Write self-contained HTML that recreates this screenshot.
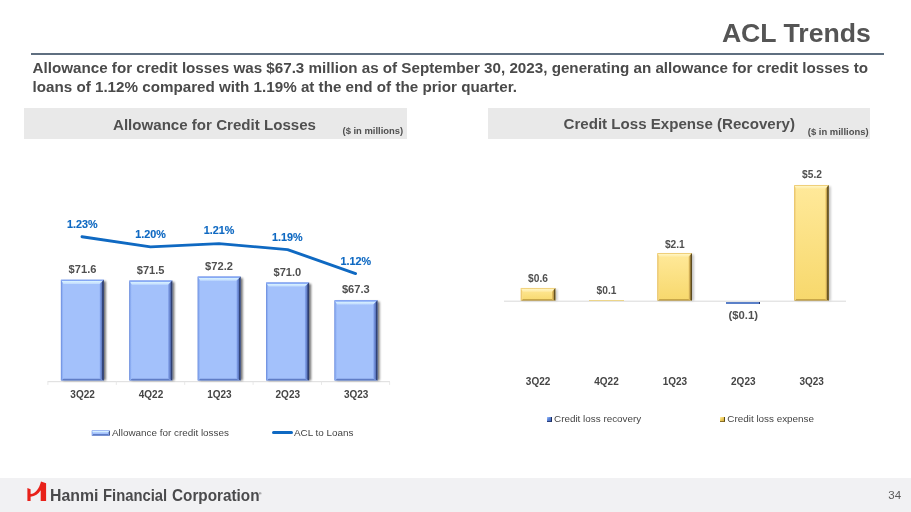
<!DOCTYPE html>
<html lang="en">
<head>
<meta charset="utf-8">
<title>ACL Trends</title>
<style>
*{margin:0;padding:0;box-sizing:border-box}
html,body{width:911px;height:512px;overflow:hidden;background:#fff}
body{position:relative;font-family:"Liberation Sans",Arial,sans-serif;color:#4a4a4a}
.abs{position:absolute;white-space:nowrap}
#title{right:40.1px;top:17.6px;font-size:26.65px;font-weight:bold;color:#555;line-height:30px}
#rule{left:31px;top:52.5px;width:853px;height:2px;background:#5f6f80}
#lead{left:32.5px;top:59.4px;font-size:15.2px;font-weight:bold;line-height:18.7px;color:#4a4a4a;white-space:normal;width:860px}
.hdr{top:108px;height:30.5px;background:#e9e9e9}
.hdr .t{font-size:15.1px;font-weight:bold;color:#505050;top:7.9px;line-height:17px}
.hdr .s{font-size:9.44px;font-weight:bold;color:#505050;top:17.2px;line-height:10px}
.xl{font-size:10px;font-weight:bold;color:#454545;line-height:12px;transform:translateX(-50%)}
.vl{font-size:11.1px;font-weight:bold;color:#505050;line-height:12px;transform:translateX(-50%)}
.v2{font-size:10.2px;font-weight:bold;color:#505050;line-height:12px;transform:translateX(-50%)}
.pl{font-size:10.8px;font-weight:bold;color:#0f69c2;-webkit-text-stroke:.15px #0f69c2;line-height:12px;transform:translateX(-50%)}
.lg{font-size:9.88px;color:#444;line-height:12px}
#foot{left:0;top:477.6px;width:911px;height:35px;background:#f1f1f3}
.br{top:487.1px;font-size:15.9px;line-height:18px;font-weight:bold;color:#4a4a4c;transform-origin:0 50%;display:inline-block}
#pn{left:888.3px;top:488.6px;font-size:11.5px;line-height:13px;color:#5a5a5a}
</style>
</head>
<body>
<div id="title" class="abs">ACL Trends</div>
<div id="rule" class="abs"></div>
<div id="lead" class="abs">Allowance for credit losses was $67.3 million as of September 30, 2023, generating an allowance for credit losses to<br>loans of 1.12% compared with 1.19% at the end of the prior quarter.</div>

<div class="abs hdr" style="left:23.5px;width:383px">
  <span class="abs t" style="left:89.5px;top:7.5px">Allowance for Credit Losses</span>
  <span class="abs s" style="left:319px;top:17.7px">($ in millions)</span>
</div>
<div class="abs hdr" style="left:488px;width:382px">
  <span class="abs t" style="left:75.5px;top:7px">Credit Loss Expense (Recovery)</span>
  <span class="abs s" style="left:319.8px;top:18.5px">($ in millions)</span>
</div>

<div id="foot" class="abs"></div>
<!-- chart 1 -->
<svg class="abs" style="left:0;top:0" width="911" height="512" viewBox="0 0 911 512">
  <path d="M47.5 381.7H390" stroke="#dcdcdc" stroke-width="1" fill="none"/>
  <path d="M47.9 381.7v3.2 M116.3 381.7v3.2 M184.7 381.7v3.2 M253.1 381.7v3.2 M321.5 381.7v3.2 M389.6 381.7v3.2" stroke="#e8e8e8" stroke-width="1" fill="none"/>
  <!--BARS-->
<defs>
<filter id="sh" x="-30%" y="-10%" width="160%" height="120%"><feGaussianBlur stdDeviation="1.1"/></filter>
<linearGradient id="bt" x1="0" y1="0" x2="0" y2="1"><stop offset="0" stop-color="#6f92ec"/><stop offset=".28" stop-color="#8db0f8"/><stop offset=".42" stop-color="#d6f0ff"/><stop offset="1" stop-color="#c0dafe"/></linearGradient>
<linearGradient id="bl" x1="0" y1="0" x2="1" y2="0"><stop offset="0" stop-color="#5f80d4"/><stop offset=".4" stop-color="#86a8f0"/><stop offset="1" stop-color="#a0bffa"/></linearGradient>
<linearGradient id="br" x1="0" y1="0" x2="1" y2="0"><stop offset="0" stop-color="#8aa9f0"/><stop offset=".55" stop-color="#5a76c0"/><stop offset=".66" stop-color="#34467c"/><stop offset="1" stop-color="#2a3866"/></linearGradient>
<linearGradient id="yt" x1="0" y1="0" x2="0" y2="1"><stop offset="0" stop-color="#e2be60"/><stop offset=".2" stop-color="#f6d888"/><stop offset=".38" stop-color="#fff4be"/><stop offset="1" stop-color="#feeaa4"/></linearGradient>
<linearGradient id="ym" x1="0" y1="0" x2="0" y2="1"><stop offset="0" stop-color="#ffe99a"/><stop offset="1" stop-color="#f7d86c"/></linearGradient>
<linearGradient id="yl" x1="0" y1="0" x2="1" y2="0"><stop offset="0" stop-color="#e0b858"/><stop offset=".5" stop-color="#f2d07a"/><stop offset="1" stop-color="#fbe08e"/></linearGradient>
<linearGradient id="yr" x1="0" y1="0" x2="1" y2="0"><stop offset="0" stop-color="#ecc868"/><stop offset=".5" stop-color="#b89848"/><stop offset=".62" stop-color="#6a5624"/><stop offset="1" stop-color="#54441c"/></linearGradient>
</defs>
<rect x="62.9" y="281.2" width="43" height="99.2" fill="#000" opacity="0.55" filter="url(#sh)"/>
<rect x="60.9" y="279.7" width="43" height="100.7" fill="#a3c1fb"/>
<polygon points="60.9,279.7 103.9,279.7 99.7,283.9 63.3,283.9" fill="url(#bt)"/>
<polygon points="60.9,380.4 103.9,380.4 99.7,378.8 63.3,378.8" fill="#5f7dc6"/>
<polygon points="60.9,279.7 63.3,283.9 63.3,378.8 60.9,380.4" fill="url(#bl)"/>
<polygon points="103.9,279.7 99.7,283.9 99.7,378.8 103.9,380.4" fill="url(#br)"/>
<rect x="131.3" y="282" width="43" height="98.4" fill="#000" opacity="0.55" filter="url(#sh)"/>
<rect x="129.3" y="280.5" width="43" height="99.9" fill="#a3c1fb"/>
<polygon points="129.3,280.5 172.3,280.5 168.1,284.7 131.7,284.7" fill="url(#bt)"/>
<polygon points="129.3,380.4 172.3,380.4 168.1,378.8 131.7,378.8" fill="#5f7dc6"/>
<polygon points="129.3,280.5 131.7,284.7 131.7,378.8 129.3,380.4" fill="url(#bl)"/>
<polygon points="172.3,280.5 168.1,284.7 168.1,378.8 172.3,380.4" fill="url(#br)"/>
<rect x="199.7" y="278.1" width="43" height="102.3" fill="#000" opacity="0.55" filter="url(#sh)"/>
<rect x="197.7" y="276.6" width="43" height="103.8" fill="#a3c1fb"/>
<polygon points="197.7,276.6 240.7,276.6 236.5,280.8 200.1,280.8" fill="url(#bt)"/>
<polygon points="197.7,380.4 240.7,380.4 236.5,378.8 200.1,378.8" fill="#5f7dc6"/>
<polygon points="197.7,276.6 200.1,280.8 200.1,378.8 197.7,380.4" fill="url(#bl)"/>
<polygon points="240.7,276.6 236.5,280.8 236.5,378.8 240.7,380.4" fill="url(#br)"/>
<rect x="268.1" y="283.9" width="43" height="96.5" fill="#000" opacity="0.55" filter="url(#sh)"/>
<rect x="266.1" y="282.4" width="43" height="98" fill="#a3c1fb"/>
<polygon points="266.1,282.4 309.1,282.4 304.9,286.6 268.5,286.6" fill="url(#bt)"/>
<polygon points="266.1,380.4 309.1,380.4 304.9,378.8 268.5,378.8" fill="#5f7dc6"/>
<polygon points="266.1,282.4 268.5,286.6 268.5,378.8 266.1,380.4" fill="url(#bl)"/>
<polygon points="309.1,282.4 304.9,286.6 304.9,378.8 309.1,380.4" fill="url(#br)"/>
<rect x="336.5" y="301.7" width="43" height="78.7" fill="#000" opacity="0.55" filter="url(#sh)"/>
<rect x="334.5" y="300.2" width="43" height="80.2" fill="#a3c1fb"/>
<polygon points="334.5,300.2 377.5,300.2 373.3,304.4 336.9,304.4" fill="url(#bt)"/>
<polygon points="334.5,380.4 377.5,380.4 373.3,378.8 336.9,378.8" fill="#5f7dc6"/>
<polygon points="334.5,300.2 336.9,304.4 336.9,378.8 334.5,380.4" fill="url(#bl)"/>
<polygon points="377.5,300.2 373.3,304.4 373.3,378.8 377.5,380.4" fill="url(#br)"/>
<rect x="91.8" y="430.6" width="18" height="5.1" fill="#a3c1fb"/>
<polygon points="91.8,430.6 109.8,430.6 108.2,432.6 92.8,432.6" fill="url(#bt)"/>
<polygon points="91.8,435.7 109.8,435.7 108.2,434.1 92.8,434.1" fill="#5f7dc6"/>
<polygon points="91.8,430.6 92.8,432.6 92.8,434.1 91.8,435.7" fill="url(#bl)"/>
<polygon points="109.8,430.6 108.2,432.6 108.2,434.1 109.8,435.7" fill="url(#br)"/>
<rect x="522.8" y="289.4" width="34.6" height="11.5" fill="#000" opacity="0.22" filter="url(#sh)"/>
<rect x="520.8" y="287.9" width="34.6" height="13" fill="url(#ym)"/>
<polygon points="520.8,287.9 555.4,287.9 552,291.7 522.6,291.7" fill="url(#yt)"/>
<polygon points="520.8,300.9 555.4,300.9 552,299.3 522.6,299.3" fill="#b8963c"/>
<polygon points="520.8,287.9 522.6,291.7 522.6,299.3 520.8,300.9" fill="url(#yl)"/>
<polygon points="555.4,287.9 552,291.7 552,299.3 555.4,300.9" fill="url(#yr)"/>
<rect x="659.4" y="254.5" width="34.6" height="46.4" fill="#000" opacity="0.22" filter="url(#sh)"/>
<rect x="657.4" y="253" width="34.6" height="47.9" fill="url(#ym)"/>
<polygon points="657.4,253 692,253 688.6,256.8 659.2,256.8" fill="url(#yt)"/>
<polygon points="657.4,300.9 692,300.9 688.6,299.3 659.2,299.3" fill="#b8963c"/>
<polygon points="657.4,253 659.2,256.8 659.2,299.3 657.4,300.9" fill="url(#yl)"/>
<polygon points="692,253 688.6,256.8 688.6,299.3 692,300.9" fill="url(#yr)"/>
<rect x="796.2" y="186.5" width="34.6" height="114.4" fill="#000" opacity="0.22" filter="url(#sh)"/>
<rect x="794.2" y="185" width="34.6" height="115.9" fill="url(#ym)"/>
<polygon points="794.2,185 828.8,185 825.4,188.8 796,188.8" fill="url(#yt)"/>
<polygon points="794.2,300.9 828.8,300.9 825.4,299.3 796,299.3" fill="#b8963c"/>
<polygon points="794.2,185 796,188.8 796,299.3 794.2,300.9" fill="url(#yl)"/>
<polygon points="828.8,185 825.4,188.8 825.4,299.3 828.8,300.9" fill="url(#yr)"/>
<!--/BARS-->
  <polyline points="82,236.7 150.5,246.9 219,243.6 287.6,249.6 355.6,273.6" fill="none" stroke="#0f69c2" stroke-width="2.9" stroke-linecap="round" stroke-linejoin="round"/>
  <path d="M504 301.2H846" stroke="#d9d9d9" stroke-width="1" fill="none"/>
  <!-- logo mark -->
  <path d="M27.4 488 L30.6 489.2 L30.6 494 C35.5 493.4 39.2 488.5 41 481.4 L46.1 483.3 L46.1 500.9 L40.7 500.9 L40.7 490.3 C38.5 494.2 35 496.4 30.6 496.7 L30.6 500.9 L27.4 500.9 Z" fill="#e8211a"/>
</svg>
<div class="abs pl" style="left:82.2px;top:218px">1.23%</div>
<div class="abs pl" style="left:150.6px;top:227.9px">1.20%</div>
<div class="abs pl" style="left:219px;top:223.5px">1.21%</div>
<div class="abs pl" style="left:287.4px;top:230.8px">1.19%</div>
<div class="abs pl" style="left:355.8px;top:254.8px">1.12%</div>

<div class="abs vl" style="left:82.5px;top:263px">$71.6</div>
<div class="abs vl" style="left:150.6px;top:263.5px">$71.5</div>
<div class="abs vl" style="left:219px;top:259.9px">$72.2</div>
<div class="abs vl" style="left:287.4px;top:265.8px">$71.0</div>
<div class="abs vl" style="left:355.8px;top:282.7px">$67.3</div>

<div class="abs xl" style="left:82.6px;top:388.7px">3Q22</div>
<div class="abs xl" style="left:151px;top:388.7px">4Q22</div>
<div class="abs xl" style="left:219.4px;top:388.7px">1Q23</div>
<div class="abs xl" style="left:287.8px;top:388.7px">2Q23</div>
<div class="abs xl" style="left:356.2px;top:388.7px">3Q23</div>

<div class="abs lg" style="left:112px;top:427px">Allowance for credit losses</div>
<div class="abs" style="left:272.4px;top:431.4px;width:20.8px;height:2.9px;background:#0f69c2;border-radius:1.5px"></div>
<div class="abs lg" style="left:294px;top:427px">ACL to Loans</div>

<!-- chart 2 -->
<div class="abs" style="left:589px;top:299.9px;width:34.8px;height:.9px;background:#ecd58a"></div>
<div class="abs" style="left:726px;top:301.6px;width:34.3px;height:2.3px;background:linear-gradient(90deg,#5b80c8 0,#5b80c8 96%,#23356a 97%)"></div>

<div class="abs v2" style="left:538px;top:272.5px">$0.6</div>
<div class="abs v2" style="left:606.5px;top:284.5px">$0.1</div>
<div class="abs v2" style="left:674.8px;top:238.5px">$2.1</div>
<div class="abs vl" style="left:743.3px;top:308.8px;font-size:11.3px">($0.1)</div>
<div class="abs v2" style="left:812px;top:169px">$5.2</div>

<div class="abs xl" style="left:538.1px;top:375.8px">3Q22</div>
<div class="abs xl" style="left:606.5px;top:375.8px">4Q22</div>
<div class="abs xl" style="left:674.9px;top:375.8px">1Q23</div>
<div class="abs xl" style="left:743.3px;top:375.8px">2Q23</div>
<div class="abs xl" style="left:811.7px;top:375.8px">3Q23</div>

<div class="abs" style="left:546.5px;top:416.5px;width:5.5px;height:5.3px;background:linear-gradient(135deg,#a8c6ff 0,#5c86da 45%,#4468b8 100%);border-right:1px solid #1e2c58;border-bottom:1px solid #2c3f7a"></div>
<div class="abs lg" style="left:554px;top:413.3px">Credit loss recovery</div>
<div class="abs" style="left:719.8px;top:416.5px;width:5.5px;height:5.3px;background:linear-gradient(135deg,#fff2b0 0,#f0cf60 45%,#d8b040 100%);border-right:1px solid #5a4a18;border-bottom:1px solid #8a7028"></div>
<div class="abs lg" style="left:727.3px;top:413.3px">Credit loss expense</div>

<!-- footer -->
<div class="abs br" style="left:49.8px;transform:scaleX(.996)">Hanmi</div>
<div class="abs br" style="left:102.6px;transform:scaleX(.932)">Financial</div>
<div class="abs br" style="left:171.6px;transform:scaleX(.962)">Corporation</div>
<div class="abs" style="left:259px;top:491.5px;font-size:3.5px;line-height:4px;color:#4a4a4c;font-weight:bold">®</div>
<div id="pn" class="abs">34</div>
</body>
</html>
